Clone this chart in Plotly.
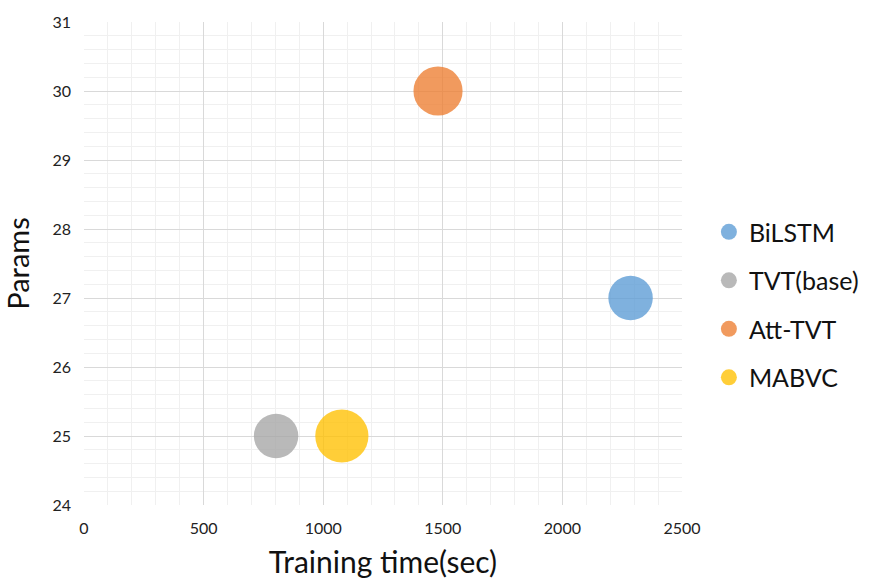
import plotly.graph_objects as go

# Models compared: training time (sec), parameter count, bubble weight
models = ["BiLSTM", "TVT(base)", "Att-TVT", "MABVC"]
training_time = [2285, 803, 1480, 1078]
params = [27, 25, 30, 25]
bubble_weight = [25.7, 25.7, 31.4, 36.8]

x_ticks = [0, 500, 1000, 1500, 2000, 2500]
y_ticks = [24, 25, 26, 27, 28, 29, 30, 31]

colors = {
    "BiLSTM": "#5B9BD5",
    "TVT(base)": "#A5A5A5",
    "Att-TVT": "#ED7D31",
    "MABVC": "#FFC000",
}

FONT = "Lato, 'Open Sans', sans-serif"

fig = go.Figure()
for name, t, p, w in zip(models, training_time, params, bubble_weight):
    fig.add_trace(go.Scatter(
        x=[t], y=[p], name=name, legendgroup=name, mode="markers",
        marker=dict(size=[w], sizemode="area", sizeref=0.026,
                    color=colors[name], opacity=0.78, line=dict(width=0)),
    ))

fig.update_layout(
    width=881, height=585,
    margin=dict(l=84, r=199, t=20, b=80),
    paper_bgcolor="white", plot_bgcolor="white",
    font=dict(family=FONT, color="#222222"),
    legend=dict(
        x=1.045, xanchor="left", y=0.415, yanchor="middle",
        font=dict(size=25, family=FONT, color="#111111"),
        itemsizing="trace", tracegroupgap=13,
        bgcolor="rgba(0,0,0,0)",
    ),
    xaxis=dict(
        range=[0, 2500], tickvals=x_ticks, ticktext=[str(v) for v in x_ticks],
        showgrid=True, gridcolor="#D9D9D9", gridwidth=1,
        minor=dict(dtick=100, showgrid=True, gridcolor="#F0F0F0", gridwidth=1),
        zeroline=False, showline=False, ticks="",
        ticklabelstandoff=12,
        tickfont=dict(size=16, family=FONT, color="#222222"),
        title=dict(text="Training time(sec)", font=dict(size=30, family=FONT, color="#111111"),
                   standoff=15),
    ),
    yaxis=dict(
        range=[24, 31], tickvals=y_ticks, ticktext=[str(v) for v in y_ticks],
        showgrid=True, gridcolor="#D9D9D9", gridwidth=1,
        minor=dict(dtick=0.2, showgrid=True, gridcolor="#F0F0F0", gridwidth=1),
        zeroline=False, showline=False, ticks="",
        ticklabelstandoff=12,
        tickfont=dict(size=16, family=FONT, color="#222222"),
        title=dict(text="Params", font=dict(size=29, family=FONT, color="#111111"),
                   standoff=20),
    ),
)

fig.write_html("out.html")
